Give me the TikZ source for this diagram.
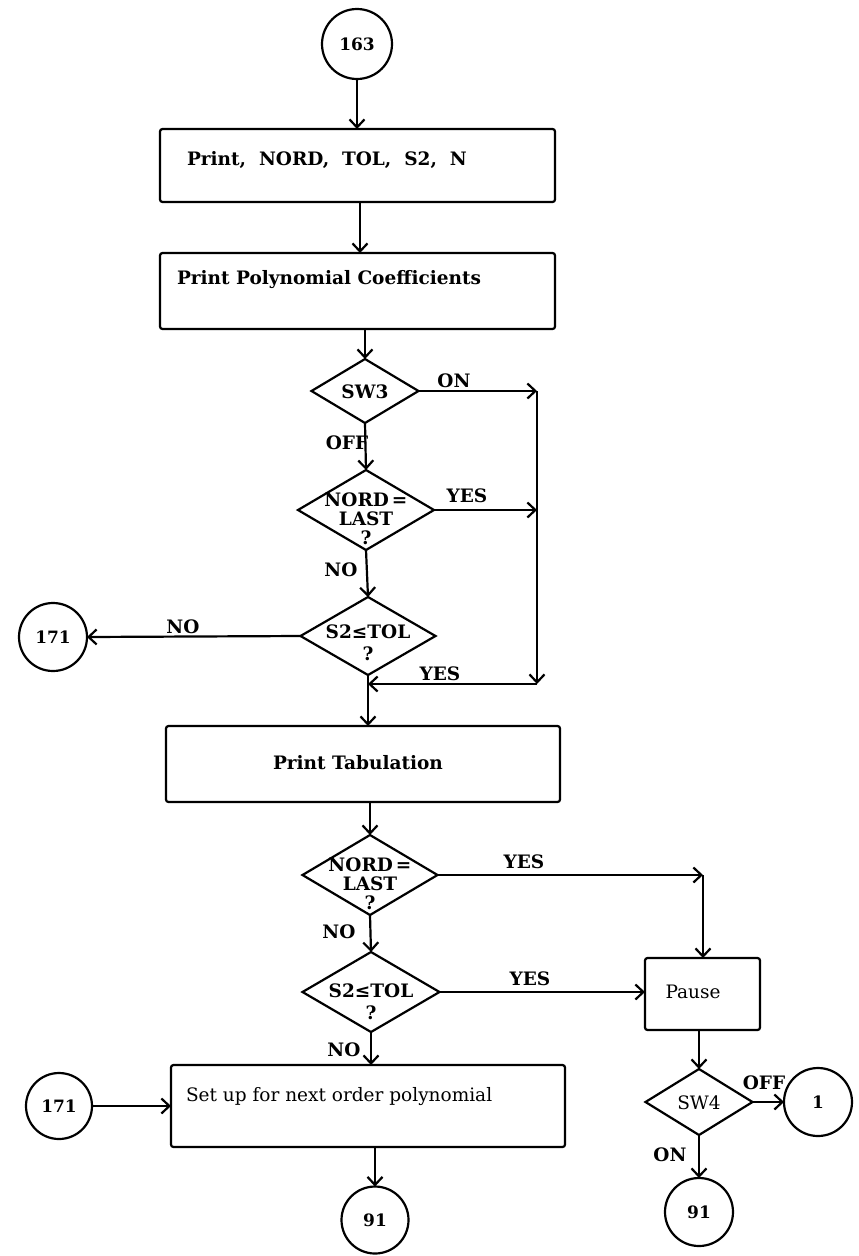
\documentclass[tikz,border=0pt]{standalone}
\usepackage{fontspec}
\setmainfont{DejaVu Serif}
\usetikzlibrary{shapes.geometric,arrows.meta}
\begin{document}
\begin{tikzpicture}[x=1pt,y=-1pt,
  line width=2.2pt,
  every node/.style={inner sep=0pt, outer sep=0pt},
  box/.style={draw, rectangle, rounded corners=2.5pt},
  dia/.style={draw, diamond},
  conn/.style={draw, circle, font=\fontsize{17}{20}\selectfont\bfseries},
  txt/.style={font=\fontsize{18.5}{19}\selectfont\bfseries, align=center},
  rtxt/.style={font=\fontsize{18.5}{20}\selectfont},
  lbl/.style={font=\fontsize{18.5}{20}\selectfont\bfseries},
  arr/.style={-{Straight Barb[length=8pt,width=15pt,line width=2.2pt]}},
]
\useasboundingbox (0,0) rectangle (859,1256);

% process boxes
\node[box, minimum width=395, minimum height=73] (b1) at (357.5,165.5) {};
\node[box, minimum width=395, minimum height=76] (b2) at (357.5,291) {};
\node[box, minimum width=394, minimum height=76] (b3) at (363,764) {};
\node[box, minimum width=115, minimum height=72] (pause) at (702.5,994) {};
\node[box, minimum width=394, minimum height=82] (setup) at (368,1106) {};

\node[txt, anchor=west] (t1) at (187,160) {Print,\ \ NORD,\ \ TOL,\ \ S2,\ \ N};
\node[txt, anchor=west] (t2) at (177,280) {Print Polynomial Coefficients};
\node[txt, anchor=west] (t3) at (273,763) {Print Tabulation};
\node[rtxt] (t4) at (693,992) {Pause};
\node[rtxt, anchor=west] (t5) at (186,1097) {Set up for next order polynomial};

% decisions
\node[dia, minimum width=107, minimum height=64] (sw3) at (365,391) {};
\node[dia, minimum width=136, minimum height=80] (nord1) at (366,510) {};
\node[dia, minimum width=135, minimum height=78] (s2a) at (368,636) {};
\node[dia, minimum width=135, minimum height=80] (nord2) at (370,875) {};
\node[dia, minimum width=137, minimum height=80] (s2b) at (371,992) {};
\node[dia, minimum width=107, minimum height=66] (sw4) at (699,1102) {};

\node[txt] (d1) at (365,392) {SW3};
\node[txt] (d2) at (366,519) {NORD\,=\\LAST\\?};
\node[txt] (d3) at (368,643) {S2≤TOL\\[3pt]?};
\node[txt] (d4) at (370,884) {NORD\,=\\LAST\\?};
\node[txt] (d5) at (371,1002) {S2≤TOL\\[3pt]?};
\node[rtxt] (d6) at (699,1103) {SW4};

% connectors (off-page)
\node[conn, minimum size=70] (c163) at (357,44) {163};
\node[conn, minimum size=68] (c171a) at (53,637) {171};
\node[conn, minimum size=66] (c171b) at (59,1106) {171};
\node[conn, minimum size=68] (c1) at (818,1102) {1};
\node[conn, minimum size=67] (c91a) at (375,1220) {91};
\node[conn, minimum size=68] (c91b) at (699,1212) {91};

% junction points
\coordinate (j1) at (537,391);
\coordinate (j2) at (537,510);
\coordinate (j3) at (537,684);
\coordinate (j4) at (368,684);
\coordinate (j5) at (703,875);

% flow lines
\draw[arr] (c163.south) -- (c163.south |- b1.north);
\draw[arr] ([xshift=2.5pt]b1.south) -- ([xshift=2.5pt]b2.north);
\draw[arr] (sw3 |- b2.south) -- (sw3.north);
\draw[arr] (sw3.south) -- (nord1.north);
\draw[arr] (sw3.east) -- (j1);
\draw[arr] (nord1.east) -- (j2);
\draw[arr] (j1) -- (j3);
\draw[arr] (j3) -- (j4);
\draw[arr] (nord1.south) -- (s2a.north);
\draw[arr] (s2a.west) -- (c171a.east);
\draw[arr] (s2a.south) -- (s2a.south |- b3.north);
\draw[arr] (nord2 |- b3.south) -- (nord2.north);
\draw[arr] (nord2.east) -- (j5);
\draw[arr] (j5) -- (j5 |- pause.north);
\draw[arr] (nord2.south) -- (s2b.north);
\draw[arr] (s2b.east) -- (s2b.east -| pause.west);
\draw[arr] (s2b.south) -- (s2b.south |- setup.north);
\draw[arr] (c171b.east) -- (c171b.east -| setup.west);
\draw[arr] (c91a |- setup.south) -- (c91a.north);
\draw[arr] (pause.south -| sw4) -- (sw4.north);
\draw[arr] (sw4.east) -- (c1.west);
\draw[arr] (sw4.south) -- (c91b.north);

% branch labels
\node[lbl] (l1) at (454,381) {ON};
\node[lbl] (l2) at (347,443) {OFF};
\node[lbl] (l3) at (467,496) {YES};
\node[lbl] (l4) at (341,570) {NO};
\node[lbl] (l5) at (183,627) {NO};
\node[lbl] (l6) at (440,674) {YES};
\node[lbl] (l7) at (524,862) {YES};
\node[lbl] (l8) at (339,932) {NO};
\node[lbl] (l9) at (530,979) {YES};
\node[lbl] (l10) at (344,1050) {NO};
\node[lbl] (l11) at (764,1083) {OFF};
\node[lbl] (l12) at (670,1155) {ON};
\end{tikzpicture}
\end{document}
